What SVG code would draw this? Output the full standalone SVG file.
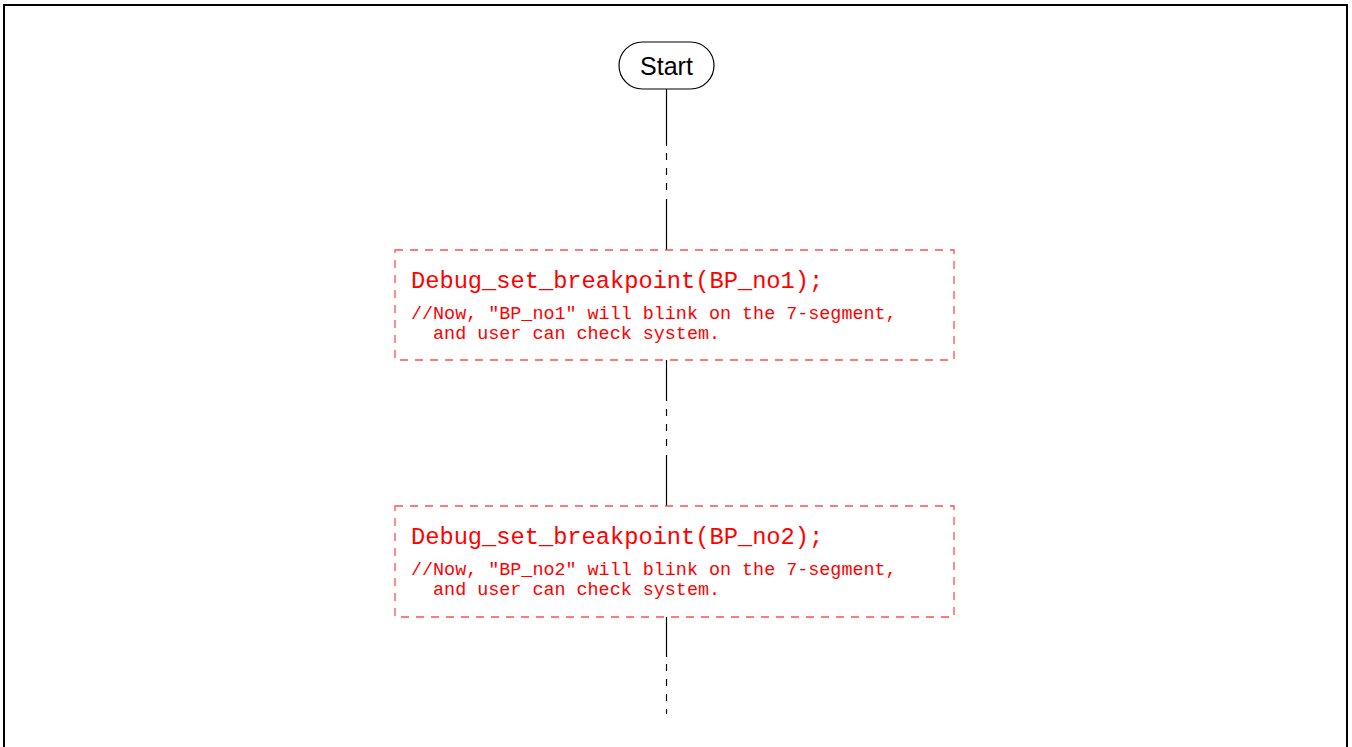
<svg xmlns="http://www.w3.org/2000/svg" width="1352" height="747" viewBox="0 0 1352 747">
  <style>
    .frame { fill: none; stroke: #000; stroke-width: 2; }
    .term { fill: #fff; stroke: #000; stroke-width: 1.2; }
    .term-text { font-family: "Liberation Sans", Arial, sans-serif; font-size: 25px; fill: #000; }
    .wire { stroke: #000; stroke-width: 1.2; fill: none; }
    .wire-gap { stroke: #000; stroke-width: 1.2; fill: none; stroke-dasharray: 7 8; }
    .code-box { fill: #fff; stroke: #ff5050; stroke-width: 1.3; stroke-dasharray: 8 7; }
    .code { font-family: "Liberation Mono", "Courier New", monospace; fill: #ff0000; white-space: pre; }
    .call { font-size: 23.7px; }
    .note { font-size: 18.4px; }
  </style>

  <!-- outer frame -->
  <rect class="frame" x="4" y="5" width="1343" height="760"/>

  <!-- connectors, with broken segments marking omitted code -->
  <g id="connectors">
    <line class="wire" x1="666.5" y1="89" x2="666.5" y2="146"/>
    <line class="wire-gap" x1="666.5" y1="153" x2="666.5" y2="198"/>
    <line class="wire" x1="666.5" y1="199" x2="666.5" y2="250"/>

    <line class="wire" x1="666.5" y1="360" x2="666.5" y2="401"/>
    <line class="wire-gap" x1="666.5" y1="409" x2="666.5" y2="454"/>
    <line class="wire" x1="666.5" y1="455" x2="666.5" y2="506"/>

    <line class="wire" x1="666.5" y1="617" x2="666.5" y2="657"/>
    <line class="wire-gap" x1="666.5" y1="664" x2="666.5" y2="714"/>
  </g>

  <g id="start">
    <rect class="term" x="619" y="42" width="95" height="47" rx="23.5" ry="23.5"/>
    <text class="term-text" x="666.5" y="74.5" text-anchor="middle">Start</text>
  </g>

  <g id="bp1">
    <rect class="code-box" x="395" y="250" width="559" height="110"/>
    <text class="code call" x="411" y="288">Debug_set_breakpoint(BP_no1);</text>
    <text class="code note" x="411" y="319">//Now, "BP_no1" will blink on the 7-segment,</text>
    <text class="code note" x="411" y="338.5">  and user can check system.</text>
  </g>

  <g id="bp2">
    <rect class="code-box" x="395" y="506" width="559" height="111"/>
    <text class="code call" x="411" y="544">Debug_set_breakpoint(BP_no2);</text>
    <text class="code note" x="411" y="575">//Now, "BP_no2" will blink on the 7-segment,</text>
    <text class="code note" x="411" y="594.5">  and user can check system.</text>
  </g>
</svg>
